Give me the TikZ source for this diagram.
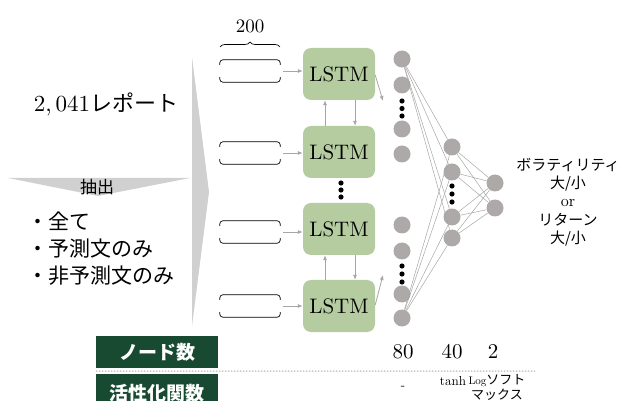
\documentclass[tikz,border=0pt]{standalone}
\usepackage{fontspec}
\setmainfont{lmroman10-regular.otf}[BoldFont=lmroman10-bold.otf, ItalicFont=lmroman10-italic.otf]
\newfontfamily\jp{Noto Sans CJK JP}
\usetikzlibrary{arrows.meta,decorations.pathreplacing,calc}
\definecolor{lstmgreen}{HTML}{B5CCA0}
\definecolor{dkgreen}{HTML}{174A30}
\definecolor{neuron}{HTML}{ADA9A8}
\definecolor{conn}{HTML}{A6A6A6}
\definecolor{chev}{HTML}{D0D0D0}
\definecolor{dotgray}{HTML}{C8C8C8}
\begin{document}
\begin{tikzpicture}[x=1pt,y=-1pt,
 lstm/.style={fill=lstmgreen, rounded corners=8pt, minimum width=72pt, minimum height=52pt, inner sep=0pt, font=\fontsize{21}{24}\selectfont},
 neu/.style={circle, fill=neuron, minimum size=17pt, inner sep=0pt},
 inbox/.style={minimum width=60pt, minimum height=22pt, inner sep=0pt},
 arr/.style={draw=conn, line width=0.8pt, -{Latex[length=5pt,width=4pt]}},
 link/.style={draw=conn, line width=0.5pt},
 hdr/.style={fill=dkgreen, text=white, minimum width=122pt, inner sep=0pt, font=\jp\bfseries\fontsize{19}{22}\selectfont},
 num/.style={font=\fontsize{21}{24}\selectfont},
]
\useasboundingbox (0,0) rectangle (622,401);
% chevrons
\fill[chev] (192,57) -- (209,192) -- (192,326) -- cycle;
\fill[chev] (8,178) -- (190,178) -- (98,196) -- cycle;
% left texts
\node[font=\fontsize{17}{20}\selectfont\jp] (extract) at (97,187) {抽出};
\node[font=\fontsize{23}{26}\selectfont] (rep) at (106,104) {2,\,041{\jp\fontsize{22}{26}\selectfont レポート}};
\node[anchor=west, align=left, font=\jp\fontsize{21}{27}\selectfont] (list) at (24,249) {・全て\\・予測文のみ\\・非予測文のみ};
% input boxes
\foreach \i/\y in {1/71,2/153,3/232,4/306}{
  \node[inbox] (in\i) at (250,\y) {};
  \draw[line width=0.7pt, rounded corners=3pt] ([yshift=-5pt]in\i.north west) -- (in\i.north west) -- (in\i.north east) -- ([yshift=-5pt]in\i.north east);
  \draw[line width=0.7pt, rounded corners=3pt] ([yshift=5pt]in\i.south west) -- (in\i.south west) -- (in\i.south east) -- ([yshift=5pt]in\i.south east);
}
\coordinate (brl) at (220,47);
\coordinate (brr) at (280,47);
\draw[line width=0.7pt, decorate, decoration={brace, amplitude=5pt}] (brl) -- (brr);
\node[font=\fontsize{19}{20}\selectfont] (dim) at (250,26) {200};
% LSTMs
\foreach \i/\y in {1/74,2/152,3/229,4/306}{
  \node[lstm] (l\i) at (339,\y) {LSTM};
  \draw[arr, shorten <=3pt] (in\i.east) -- (in\i.east -| l\i.west);
}
\draw[arr] ([xshift=-14pt]l2.north) -- ([xshift=-14pt]l1.south);
\draw[arr] ([xshift=16pt]l1.south) -- ([xshift=16pt]l2.north);
\draw[arr] ([xshift=-14pt]l4.north) -- ([xshift=-14pt]l3.south);
\draw[arr] ([xshift=16pt]l3.south) -- ([xshift=16pt]l4.north);
\foreach \y in {183,190,197} \fill (341,\y) circle (2.6);
% outputs from LSTM
\coordinate (o1) at (383,101);
\coordinate (o4) at (383,275);
\draw[arr] ([yshift=-1pt]l1.east) -- (o1);
\draw[arr] ([yshift=1pt]l4.east) -- (o4);
% neurons
\foreach \i/\y in {1/59,2/85,3/129,4/154,5/225,6/251,7/294,8/318}
  \node[neu] (a\i) at (402,\y) {};
\foreach \i/\y in {1/147,2/172,3/217,4/238}
  \node[neu] (b\i) at (452,\y) {};
\foreach \i/\y in {1/183,2/208}
  \node[neu] (c\i) at (495,\y) {};
\foreach \y in {101,108.5,116,266,274,282} \fill (402,\y) circle (2.6);
\foreach \y in {186,194,202} \fill (452,\y) circle (2.6);
\foreach \j in {1,2,3,4}{
  \draw[link] (a1) -- (b\j);
  \draw[link] (a8) -- (b\j);
  \draw[link] (b\j) -- (c1);
  \draw[link] (b\j) -- (c2);
}
\node[align=center, font=\jp\fontsize{15}{18.3}\selectfont] (out) at (568,202) {ボラティリティ\\大/小\\{\rmfamily\fontsize{16}{18.3}\selectfont or}\\リターン\\大/小};
% bottom table
\node[hdr, minimum height=32pt] (h1) at (157,352) {ノード数};
\node[hdr, minimum height=38pt] (h2) at (157,393) {活性化関数};
\coordinate (dl) at (535,371);
\draw[draw=dotgray, line width=1.5pt, dash pattern=on 1.5pt off 1.5pt] ($(h1.south west)!0.5!(h2.north west)$) -- (dl);
\node[num] (n80) at (403,352) {80};
\node[num] (n40) at (452,352) {40};
\node[num] (n2) at (493,352) {2};
\node[font=\fontsize{13}{14}\selectfont] (f1) at (403,388) {-};
\node[font=\fontsize{13}{14}\selectfont] (f2) at (453,381) {tanh};
\node[align=center, font=\jp\fontsize{13}{15}\selectfont] (f3) at (497,387) {{\rmfamily\fontsize{11}{12}\selectfont Log}ソフト\\マックス};
\end{tikzpicture}
\end{document}
